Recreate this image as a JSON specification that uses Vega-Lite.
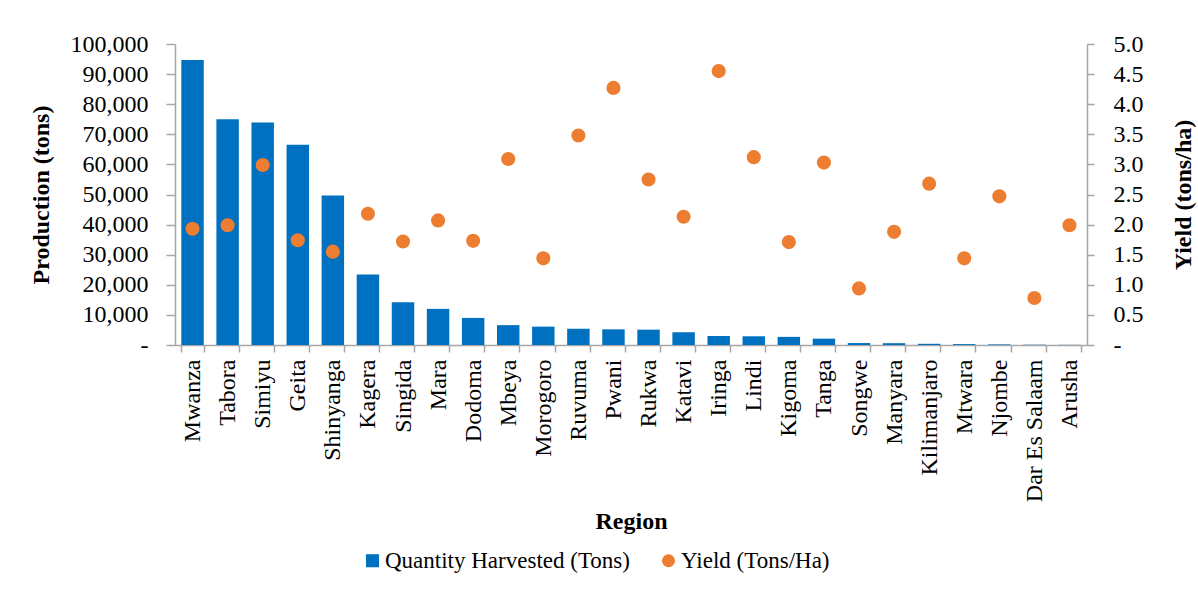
{
  "$schema": "https://vega.github.io/schema/vega-lite/v6.json",
  "autosize": {"type": "none"},
  "width": 912,
  "height": 301,
  "padding": {"left": 175, "top": 44, "right": 111, "bottom": 247},
  "background": "white",
  "config": {
    "view": {"stroke": null},
    "font": "Liberation Serif",
    "axis": {
      "labelFont": "Liberation Serif",
      "titleFont": "Liberation Serif",
      "labelFontSize": 24,
      "titleFontSize": 24,
      "labelColor": "black",
      "titleColor": "black",
      "titleFontWeight": "bold",
      "domainColor": "#A6A6A6",
      "tickColor": "#A6A6A6",
      "domainWidth": 1.5,
      "tickWidth": 1.5,
      "grid": false
    },
    "legend": {
      "labelFont": "Liberation Serif",
      "labelFontSize": 23,
      "labelColor": "black",
      "labelLimit": 0
    }
  },
  "data": {
    "values": [
      {"region": "Mwanza", "production": 94700, "yield": 1.93},
      {"region": "Tabora", "production": 75000, "yield": 1.99},
      {"region": "Simiyu", "production": 73900, "yield": 2.99},
      {"region": "Geita", "production": 66500, "yield": 1.74},
      {"region": "Shinyanga", "production": 49700, "yield": 1.55},
      {"region": "Kagera", "production": 23400, "yield": 2.18},
      {"region": "Singida", "production": 14200, "yield": 1.72},
      {"region": "Mara", "production": 12000, "yield": 2.07},
      {"region": "Dodoma", "production": 9000, "yield": 1.73},
      {"region": "Mbeya", "production": 6600, "yield": 3.09},
      {"region": "Morogoro", "production": 6100, "yield": 1.44},
      {"region": "Ruvuma", "production": 5400, "yield": 3.48},
      {"region": "Pwani", "production": 5200, "yield": 4.27},
      {"region": "Rukwa", "production": 5100, "yield": 2.75},
      {"region": "Katavi", "production": 4200, "yield": 2.13},
      {"region": "Iringa", "production": 3000, "yield": 4.55},
      {"region": "Lindi", "production": 2900, "yield": 3.12},
      {"region": "Kigoma", "production": 2700, "yield": 1.71},
      {"region": "Tanga", "production": 2100, "yield": 3.03},
      {"region": "Songwe", "production": 650, "yield": 0.94},
      {"region": "Manyara", "production": 600, "yield": 1.88},
      {"region": "Kilimanjaro", "production": 400, "yield": 2.68},
      {"region": "Mtwara", "production": 300, "yield": 1.44},
      {"region": "Njombe", "production": 200, "yield": 2.47},
      {"region": "Dar Es Salaam", "production": 100, "yield": 0.78},
      {"region": "Arusha", "production": 50, "yield": 1.99}
    ]
  },
  "encoding": {
    "x": {
      "field": "region",
      "type": "nominal",
      "sort": null,
      "scale": {"paddingInner": 0.36, "paddingOuter": 0.18},
      "axis": {
        "title": "Region",
        "labelAngle": -90,
        "tickBand": "extent",
        "tickSize": 7,
        "labelPadding": 7,
        "titlePadding": 8
      }
    }
  },
  "layer": [
    {
      "mark": {"type": "bar", "color": "#0070C0"},
      "encoding": {
        "y": {
          "field": "production",
          "type": "quantitative",
          "scale": {"domain": [0, 100000], "nice": false},
          "axis": {
            "title": "Production (tons)",
            "values": [0, 10000, 20000, 30000, 40000, 50000, 60000, 70000, 80000, 90000, 100000],
            "labelExpr": "datum.value == 0 ? '-' : format(datum.value, ',')",
            "tickSize": 9,
            "labelPadding": 18,
            "titlePadding": 17
          }
        },
        "color": {
          "datum": "Quantity Harvested (Tons)",
          "type": "nominal",
          "scale": {"domain": ["Quantity Harvested (Tons)", "Yield (Tons/Ha)"], "range": ["#0070C0", "#ED7D31"]},
          "legend": {
            "title": null,
            "orient": "none",
            "direction": "horizontal",
            "legendX": 186,
            "legendY": 505,
            "symbolSize": 170,
            "symbolStrokeWidth": 0,
            "labelOffset": 1,
            "columnPadding": 27
          }
        }
      }
    },
    {
      "mark": {"type": "point", "filled": true, "opacity": 1, "size": 200},
      "encoding": {
        "y": {
          "field": "yield",
          "type": "quantitative",
          "scale": {"domain": [0, 5], "nice": false},
          "axis": {
            "title": "Yield (tons/ha)",
            "orient": "right",
            "values": [0, 0.5, 1, 1.5, 2, 2.5, 3, 3.5, 4, 4.5, 5],
            "labelExpr": "datum.value == 0 ? '-' : format(datum.value, '.1f')",
            "tickSize": 7,
            "labelPadding": 19,
            "titleAngle": -90,
            "titlePadding": 52
          }
        },
        "color": {
          "datum": "Yield (Tons/Ha)",
          "type": "nominal"
        },
        "shape": {
          "datum": "Yield (Tons/Ha)",
          "type": "nominal",
          "scale": {"domain": ["Quantity Harvested (Tons)", "Yield (Tons/Ha)"], "range": ["square", "circle"]},
          "legend": {
            "title": null,
            "orient": "none",
            "direction": "horizontal",
            "legendX": 186,
            "legendY": 505,
            "symbolSize": 170,
            "symbolStrokeWidth": 0,
            "labelOffset": 1,
            "columnPadding": 27
          }
        }
      }
    }
  ],
  "resolve": {"scale": {"y": "independent"}}
}
